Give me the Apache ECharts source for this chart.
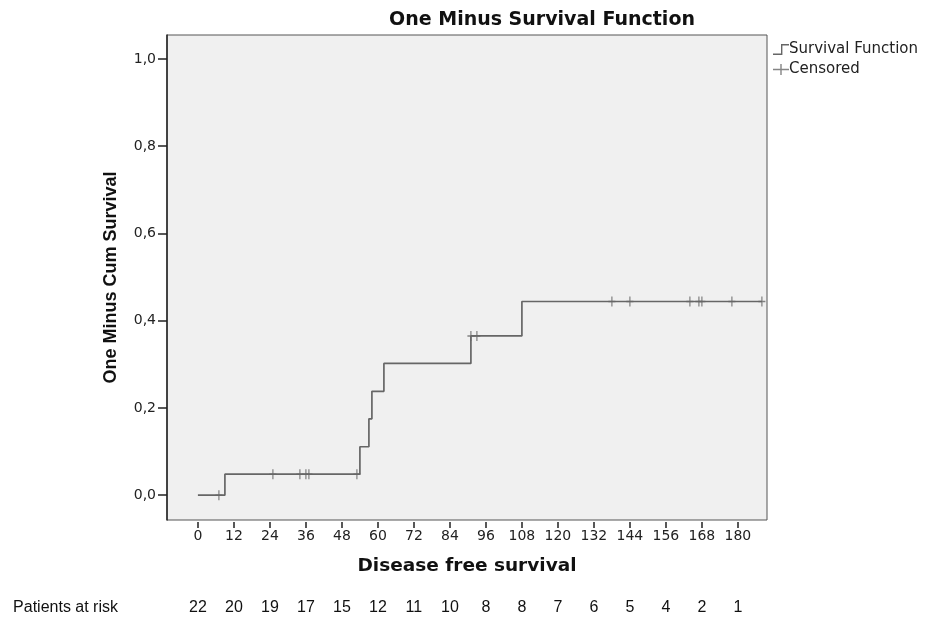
<!DOCTYPE html>
<html>
<head>
<meta charset="utf-8">
<script src="https://cdn.jsdelivr.net/npm/echarts@6/dist/echarts.min.js"></script>
<style>
  html, body { margin: 0; padding: 0; background: #fff; }
  #chart { width: 928px; height: 621px; }
</style>
</head>
<body>
<div id="chart"></div>
<script>
// 刻度
const monthTicks = [0, 12, 24, 36, 48, 60, 72, 84, 96, 108, 120, 132, 144, 156, 168, 180]
const survTicks = [0, 0.2, 0.4, 0.6, 0.8, 1.0]
// 各刻度处的风险人数
const patientsAtRisk = [22, 20, 19, 17, 15, 12, 11, 10, 8, 8, 7, 6, 5, 4, 2, 1]
// 阶梯曲线（事件时间, 1 - 累积生存率）
const eventTimes = [0, 9, 54, 57, 58, 62, 91, 108, 188]
const oneMinusSurv = [0, 0.048, 0.111, 0.175, 0.238, 0.302, 0.365, 0.444, 0.444]
// 删失点
const censorTimes = [7, 25, 34, 36, 37, 53, 91, 93, 138, 144, 164, 167, 168, 178, 188]
const censorValues = [0, 0.048, 0.048, 0.048, 0.048, 0.048, 0.365, 0.365, 0.444, 0.444, 0.444, 0.444, 0.444, 0.444, 0.444]

const lineColor = '#666666'
const narrow = "'Liberation Sans Narrow', 'Arial Narrow', 'Liberation Sans', Arial, sans-serif"
const wide = "'DejaVu Sans', Verdana, sans-serif"

const stepIcon = 'path://M0,9.6h8v-9.6h8v1.4h-6.6v9.6h-9.4z'
const plusIcon = 'path://M7.3,0h1.4v4.8h7.3v1.4h-7.3v4.8h-1.4v-4.8h-7.3v-1.4h7.3z'
const censorMark = 'path://M3.3,0h1.4v4.3h3.3v1.4h-3.3v4.3h-1.4v-4.3h-3.3v-1.4h3.3z'

let myChart = echarts.init(document.getElementById('chart'))
let option = {
  backgroundColor: '#fff',
  animation: false,
  title: {
    text: 'One Minus Survival Function',
    left: 537,
    textAlign: 'center',
    top: 6,
    textStyle: { fontFamily: wide, fontSize: 19, fontWeight: 'bold', color: '#111' }
  },
  legend: {
    orient: 'vertical',
    left: 768,
    top: 37,
    itemWidth: 16,
    itemHeight: 11,
    itemGap: 5,
    textStyle: { fontFamily: wide, fontSize: 15, color: '#222', padding: [0, 0, 0, -5] },
    data: [
      { name: 'Survival Function', icon: stepIcon },
      { name: 'Censored', icon: plusIcon }
    ]
  },
  grid: {
    left: 167,
    right: 161,
    top: 35,
    bottom: 101,
    show: true,
    backgroundColor: '#f0f0f0',
    borderColor: '#555',
    borderWidth: 1
  },
  xAxis: [
    {
      type: 'value',
      min: -10.3,
      max: 189.7,
      position: 'bottom',
      offset: 2,
      name: 'Disease free survival',
      nameLocation: 'middle',
      nameGap: 35,
      nameTextStyle: { fontFamily: wide, fontSize: 18.5, fontWeight: 'bold', color: '#111' },
      axisLine: { show: false, onZero: false },
      axisTick: { show: true, length: 6, customValues: monthTicks, lineStyle: { color: '#222', width: 1.5 } },
      axisLabel: { customValues: monthTicks, margin: 7, fontFamily: wide, fontSize: 14, color: '#222' },
      splitLine: { show: false }
    },
    {
      type: 'value',
      min: -10.3,
      max: 189.7,
      position: 'bottom',
      offset: 88,
      name: 'Patients at risk',
      nameLocation: 'start',
      nameGap: 49,
      nameTextStyle: { fontFamily: narrow, fontSize: 16, color: '#111', verticalAlign: 'middle' },
      axisLine: { show: false, onZero: false },
      axisTick: { show: false },
      axisLabel: {
        customValues: monthTicks,
        margin: -8,
        fontFamily: narrow,
        fontSize: 16,
        color: '#111',
        formatter: v => {
          let i = monthTicks.indexOf(v)
          return i >= 0 ? String(patientsAtRisk[i]) : ''
        }
      },
      splitLine: { show: false }
    }
  ],
  yAxis: {
    type: 'value',
    min: -0.057,
    max: 1.055,
    name: 'One Minus Cum Survival',
    nameLocation: 'middle',
    nameGap: 47,
    nameTextStyle: { fontFamily: narrow, fontSize: 18, fontWeight: 'bold', color: '#111' },
    axisLine: { show: true, onZero: false, lineStyle: { color: '#222', width: 1.5 } },
    axisTick: { show: true, length: 9, customValues: survTicks, lineStyle: { color: '#222', width: 1.5 } },
    axisLabel: {
      customValues: survTicks,
      margin: 11,
      fontFamily: wide,
      fontSize: 14,
      color: '#222',
      formatter: v => v.toFixed(1).replace('.', ',')
    },
    splitLine: { show: false }
  },
  series: [
    {
      name: 'Survival Function',
      type: 'line',
      step: 'end',
      showSymbol: false,
      color: lineColor,
      lineStyle: { color: lineColor, width: 1.7 },
      data: eventTimes.map((t, i) => [t, oneMinusSurv[i]])
    },
    {
      name: 'Censored',
      type: 'scatter',
      symbol: censorMark,
      symbolSize: [7, 10],
      color: lineColor,
      itemStyle: { color: lineColor },
      data: censorTimes.map((t, i) => [t, censorValues[i]])
    }
  ]
}
myChart.setOption(option)
window.addEventListener('resize', function() {
  myChart.resize()
})
</script>
</body>
</html>
